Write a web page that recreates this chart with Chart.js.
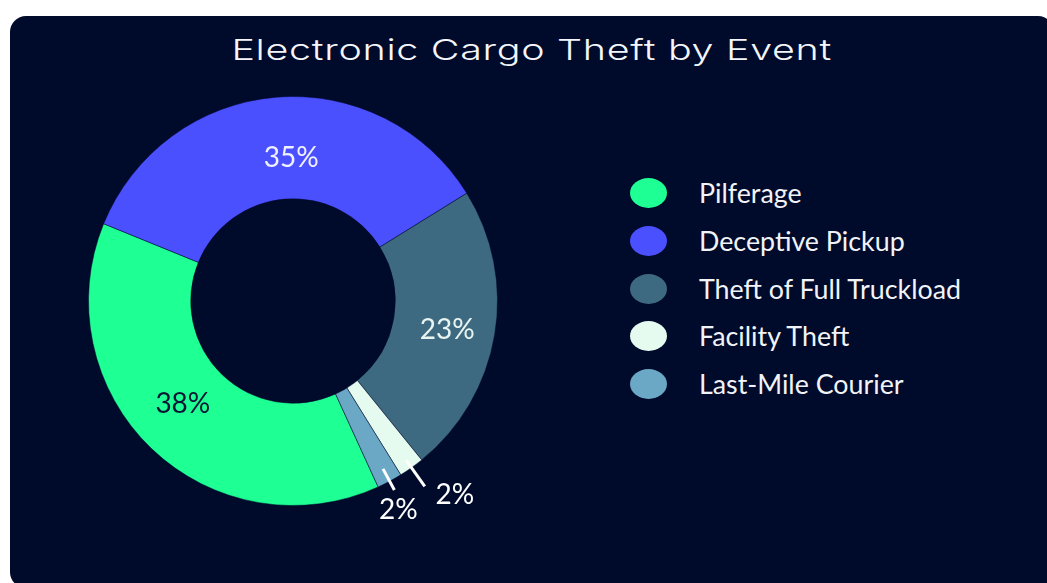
<!DOCTYPE html>
<html lang="en">
<head>
<meta charset="UTF-8">
<title>Electronic Cargo Theft by Event</title>
<script src="https://cdn.jsdelivr.net/npm/chart.js@4/dist/chart.umd.min.js"></script>
<style>
*{margin:0;padding:0;box-sizing:border-box}
body{background:#fff;width:1047px;height:583px;overflow:hidden;font-family:Lato,sans-serif}
.card{position:absolute;left:10px;top:16px;width:1044px;height:572px;background:#000a2b;border-radius:16px;overflow:hidden}
.ttl{position:absolute;left:0;width:1044px;top:19px;text-align:center;white-space:nowrap;color:#f4f6fb;font-family:Inter,sans-serif;font-weight:300;font-size:29px;line-height:29px;letter-spacing:0.5px}
.ttl span{display:inline-block;transform-origin:center}
.wrap{position:absolute;left:0;top:0;width:560px;height:567px}
.lg-item{position:absolute;left:620px;height:30px;display:flex;align-items:center}
.lg-dot{width:37px;height:30px;border-radius:50%;margin-right:32px}
.lg-txt{color:#f2f3f7;font-size:26.8px;line-height:30px;white-space:nowrap}
</style>
</head>
<body>
<div class="card">
  <div class="ttl"><span id="ttl">Electronic Cargo Theft by Event</span></div>
  <div class="wrap"><canvas id="c"></canvas></div>
  <div id="lg"></div>
</div>
<script>
// data
const categories = ["Pilferage", "Deceptive Pickup", "Theft of Full Truckload", "Facility Theft", "Last-Mile Courier"];
const shares = [38, 35, 23, 2, 2];
const sliceColors = ["#1eff94", "#4b50ff", "#3d6a80", "#e6fbf0", "#6aa8c6"];
const labelColors = ["#0b1535", "#f0f1ff", "#e8f4f0", "#ffffff", "#ffffff"];

// stretch the title to the wide look of the original face
var t = document.getElementById("ttl");
t.style.transform = "scaleX(" + (600 / t.offsetWidth) + ")";

// legend
var lg = document.getElementById("lg");
categories.forEach(function(name, i){
  var d = document.createElement("div");
  d.className = "lg-item";
  d.style.top = (162 + i * 47.8) + "px";
  d.innerHTML = '<div class="lg-dot" style="background:' + sliceColors[i] + '"></div><div class="lg-txt">' + name + '</div>';
  lg.appendChild(d);
});

const pctLabels = {
  id: "pctLabels",
  afterDatasetsDraw(chart, args, opts) {
    const ctx = chart.ctx;
    const meta = chart.getDatasetMeta(0);
    const vals = chart.data.datasets[0].data;
    meta.data.forEach(function(arc, i){
      const p = arc.getProps(["x","y","startAngle","endAngle","innerRadius","outerRadius"], true);
      const mid = (p.startAngle + p.endAngle) / 2;
      const cos = Math.cos(mid), sin = Math.sin(mid);
      const txt = vals[i] + "%";
      const n = opts.nudge[i] || [0, 0];
      ctx.save();
      ctx.font = "28px Lato";
      ctx.textAlign = "center";
      ctx.textBaseline = "middle";
      ctx.fillStyle = labelColors[i];
      const c = opts.callouts[i];
      if (c) {
        const r0 = p.outerRadius + c.from, r1 = p.outerRadius + c.to;
        ctx.strokeStyle = "#ffffff";
        ctx.lineWidth = 3;
        ctx.beginPath();
        ctx.moveTo(p.x + cos * r0, p.y + sin * r0);
        ctx.lineTo(p.x + cos * r1, p.y + sin * r1);
        ctx.stroke();
        ctx.fillText(txt, p.x + cos * r1 + n[0], p.y + sin * r1 + n[1]);
      } else {
        const r = (p.innerRadius + p.outerRadius) / 2;
        ctx.fillText(txt, p.x + cos * r + n[0], p.y + sin * r + n[1]);
      }
      ctx.restore();
    });
  }
};

new Chart(document.getElementById("c"), {
  type: "doughnut",
  data: {
    labels: categories,
    datasets: [{
      data: shares,
      backgroundColor: sliceColors,
      borderColor: "rgba(0,10,43,0.5)",
      borderWidth: 1
    }]
  },
  options: {
    responsive: true,
    maintainAspectRatio: false,
    animation: false,
    rotation: 155.4,
    cutout: "50%",
    layout: { padding: { left: 78, top: 80, right: 72, bottom: 77 } },
    plugins: {
      legend: { display: false },
      tooltip: { enabled: false },
      pctLabels: {
        callouts: { 3: { from: -9, to: 23 }, 4: { from: -14, to: 10 } },
        nudge: [[-4, -8], [11, 10], [3, 3], [30, 9], [4, 20]]
      }
    }
  },
  plugins: [pctLabels]
});
</script>
</body>
</html>
